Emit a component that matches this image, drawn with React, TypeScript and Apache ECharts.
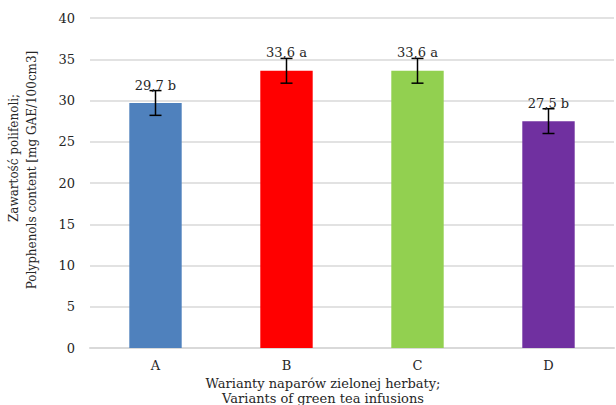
import React, { useEffect, useRef } from "react";
import * as echarts from "echarts";

const categories = ["A", "B", "C", "D"];
const values = [29.7, 33.6, 33.6, 27.5];
const errors = [1.5, 1.5, 1.5, 1.5];
const labels = ["29,7 b", "33,6 a", "33,6 a", "27,5 b"];
const colors = ["#4f81bd", "#ff0000", "#92d050", "#7030a0"];
const yTicks = { min: 0, max: 40, interval: 5 };

const FONT = "DejaVu Serif";

export default function App() {
  const ref = useRef<HTMLDivElement>(null);
  useEffect(() => {
    if (!ref.current) return;
    const chart = echarts.init(ref.current, undefined, { renderer: "svg" });
    const errData = values.map((v, i) => [i, v - errors[i], v + errors[i], labels[i]]);
    chart.setOption({
      animation: false,
      textStyle: { fontFamily: FONT },
      grid: { left: 90, right: 2, top: 18, bottom: 57 },
      xAxis: {
        type: "category",
        data: categories,
        axisTick: { show: false },
        axisLine: { lineStyle: { color: "#d9d9d9", width: 2 } },
        axisLabel: { color: "#262626", fontSize: 13, margin: 11, fontFamily: FONT },
      },
      yAxis: {
        type: "value",
        min: yTicks.min,
        max: yTicks.max,
        interval: yTicks.interval,
        axisLine: { show: false },
        axisTick: { show: false },
        axisLabel: { color: "#262626", fontSize: 13, margin: 15, fontFamily: FONT },
        splitLine: { lineStyle: { color: "#d9d9d9", width: 1.5 } },
      },
      series: [
        {
          type: "bar",
          barWidth: "40%",
          data: values.map((v, i) => ({ value: v, itemStyle: { color: colors[i] } })),
        },
        {
          type: "custom",
          data: errData,
          z: 10,
          renderItem: (params: any, api: any) => {
            const x = api.value(0);
            const lo = api.coord([x, api.value(1)]);
            const hi = api.coord([x, api.value(2)]);
            const hw = 6;
            const style = { stroke: "#000", lineWidth: 1.5 };
            return {
              type: "group",
              children: [
                { type: "line", shape: { x1: hi[0], y1: hi[1], x2: lo[0], y2: lo[1] }, style },
                { type: "line", shape: { x1: hi[0] - hw, y1: hi[1], x2: hi[0] + hw, y2: hi[1] }, style },
                { type: "line", shape: { x1: lo[0] - hw, y1: lo[1], x2: lo[0] + hw, y2: lo[1] }, style },
                {
                  type: "text",
                  z2: 5,
                  style: {
                    x: hi[0],
                    y: hi[1] + 1,
                    text: labels[params.dataIndex],
                    textAlign: "center",
                    textVerticalAlign: "bottom",
                    fill: "#262626",
                    fontSize: 13,
                    fontFamily: FONT,
                  },
                },
              ],
            };
          },
        },
      ],
      graphic: [
        {
          type: "text",
          x: 14,
          y: 158,
          rotation: Math.PI / 2,
          style: {
            text: "Zawartość polifenoli;",
            textAlign: "center",
            textVerticalAlign: "middle",
            fill: "#262626",
            fontSize: 12,
            fontFamily: FONT,
          },
        },
        {
          type: "text",
          x: 32,
          y: 170,
          rotation: Math.PI / 2,
          style: {
            text: "Polyphenols content [mg GAE/100cm3]",
            textAlign: "center",
            textVerticalAlign: "middle",
            fill: "#262626",
            fontSize: 12,
            fontFamily: FONT,
          },
        },
        {
          type: "text",
          x: 323,
          y: 383,
          style: {
            text: "Warianty naparów zielonej herbaty;",
            textAlign: "center",
            textVerticalAlign: "middle",
            fill: "#262626",
            fontSize: 13,
            fontFamily: FONT,
          },
        },
        {
          type: "text",
          x: 323,
          y: 398,
          style: {
            text: "Variants of green tea infusions",
            textAlign: "center",
            textVerticalAlign: "middle",
            fill: "#262626",
            fontSize: 13,
            fontFamily: FONT,
          },
        },
      ],
    });
    return () => chart.dispose();
  }, []);
  return (
    <div
      ref={ref}
      style={{ position: "fixed", left: 0, top: 0, width: 616, height: 405, background: "#fff" }}
    />
  );
}
